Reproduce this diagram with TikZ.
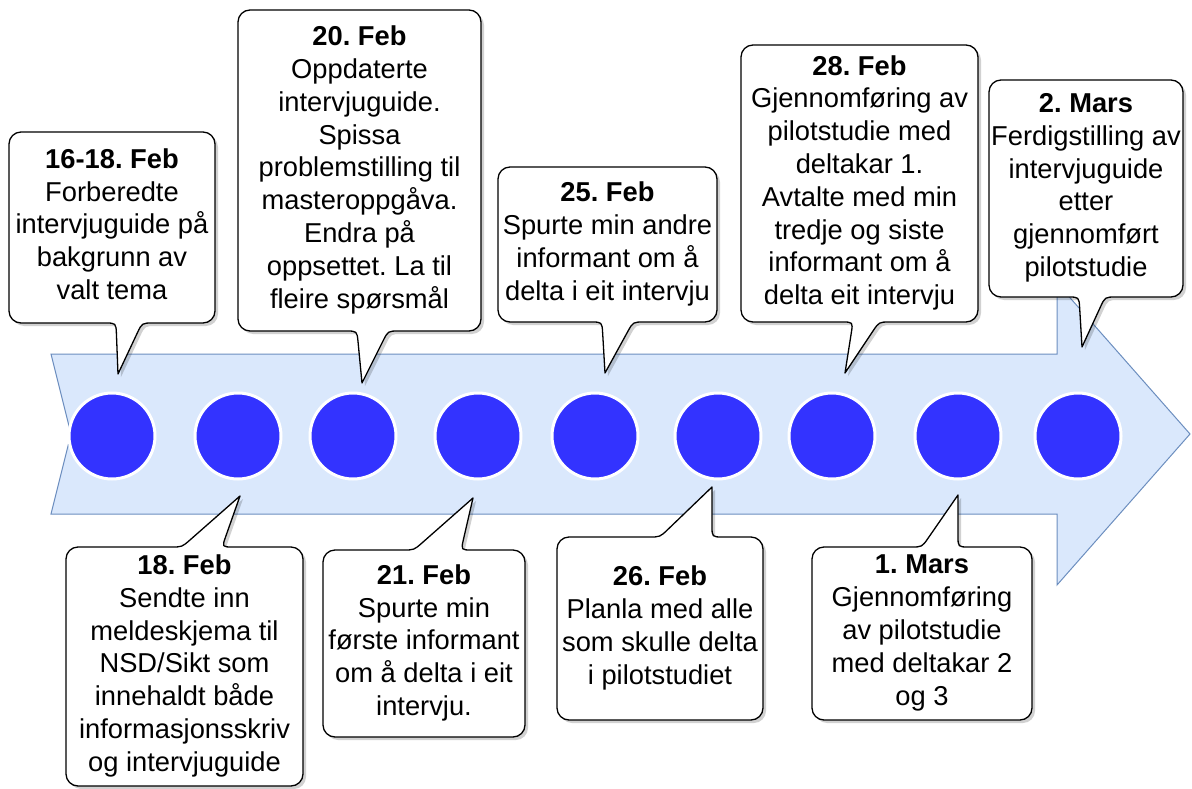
\documentclass[tikz,border=0pt]{standalone}
\usepackage{fontspec}
\setmainfont{Liberation Sans}
\usetikzlibrary{calc}
\frenchspacing
\definecolor{bandfill}{HTML}{DAE8FC}
\definecolor{bandline}{HTML}{6C8EBF}
\definecolor{dotfill}{RGB}{51,51,255}
\def\myrad{12}
\def\myctl{5.4}
\def\myfil{11}
\newcommand\lstrut{\rule[-6.9pt]{0pt}{32.7pt}}
\tikzset{
  callbox/.style={draw=black, line width=1.3pt, fill=white, line join=round},
  callshade/.style={fill=black, opacity=0.18},
  tdot/.style={circle, minimum size=86pt, inner sep=0pt, fill=dotfill, draw=white, line width=3pt},
  calltext/.style={align=center, inner sep=0pt, font=\fontsize{27.3}{32.8}\selectfont,
    execute at begin node=\lstrut, execute at end node=\lstrut},
  toppath/.style n args={8}{insert path={
    ({#1+\myrad},{#2}) -- ({#3-\myrad},{#2})
    .. controls ({#3-\myctl},{#2}) and ({#3},{#2+\myctl}) .. ({#3},{#2+\myrad})
    -- ({#3},{#4-\myrad})
    .. controls ({#3},{#4-\myctl}) and ({#3-\myctl},{#4}) .. ({#3-\myrad},{#4})
    -- ({#6+\myfil},{#4})
    .. controls ({#6},{#4}) .. ($({#6},{#4})!\myfil pt!({#7},{#8})$)
    -- ({#7},{#8})
    -- ($({#5},{#4})!\myfil pt!({#7},{#8})$)
    .. controls ({#5},{#4}) .. ({#5-\myfil},{#4})
    -- ({#1+\myrad},{#4})
    .. controls ({#1+\myctl},{#4}) and ({#1},{#4-\myctl}) .. ({#1},{#4-\myrad})
    -- ({#1},{#2+\myrad})
    .. controls ({#1},{#2+\myctl}) and ({#1+\myctl},{#2}) .. ({#1+\myrad},{#2})
    -- cycle}},
  botpath/.style n args={8}{insert path={
    ({#1+\myrad},{#2}) -- ({#5-\myfil},{#2})
    .. controls ({#5},{#2}) .. ($({#5},{#2})!\myfil pt!({#7},{#8})$)
    -- ({#7},{#8})
    -- ($({#6},{#2})!\myfil pt!({#7},{#8})$)
    .. controls ({#6},{#2}) .. ({#6+\myfil},{#2})
    -- ({#3-\myrad},{#2})
    .. controls ({#3-\myctl},{#2}) and ({#3},{#2+\myctl}) .. ({#3},{#2+\myrad})
    -- ({#3},{#4-\myrad})
    .. controls ({#3},{#4-\myctl}) and ({#3-\myctl},{#4}) .. ({#3-\myrad},{#4})
    -- ({#1+\myrad},{#4})
    .. controls ({#1+\myctl},{#4}) and ({#1},{#4-\myctl}) .. ({#1},{#4-\myrad})
    -- ({#1},{#2+\myrad})
    .. controls ({#1},{#2+\myctl}) and ({#1+\myctl},{#2}) .. ({#1+\myrad},{#2})
    -- cycle}},
}
\newcommand\topcall[8]{%
  \path[callshade, shift={(3,3)}, toppath={#1}{#2}{#3}{#4}{#5}{#6}{#7}{#8}];
  \path[callbox, toppath={#1}{#2}{#3}{#4}{#5}{#6}{#7}{#8}];}
\newcommand\botcall[8]{%
  \path[callshade, shift={(3,3)}, botpath={#1}{#2}{#3}{#4}{#5}{#6}{#7}{#8}];
  \path[callbox, botpath={#1}{#2}{#3}{#4}{#5}{#6}{#7}{#8}];}
\begin{document}
\begin{tikzpicture}[x=1pt, y=-1pt]
\useasboundingbox (0,0) rectangle (1192,789);
% timeline arrow
\draw[fill=bandfill, draw=bandline, line width=1pt, line join=miter]
  (51,354) -- (1057,354) -- (1057,283) -- (1190,434) -- (1057,585)
  -- (1057,514) -- (51,514) -- (71,434) -- cycle;
% dots
\foreach \n/\x in {1/112, 2/238, 3/353, 4/478, 5/595, 6/718, 7/832, 8/958, 9/1078}
  \node[tdot] (d\n) at (\x,436) {};
% callouts above
\topcall{9}{132}{215}{323}{116}{142}{118}{374}
\topcall{238}{10}{481}{331}{357}{388}{362}{383}
\topcall{498}{167}{717}{322}{602}{633}{605}{373}
\topcall{741}{45}{978}{322}{853}{879}{845}{373}
\topcall{989}{80}{1183}{297}{1079}{1105}{1082}{347}
% callouts below
\botcall{66}{547}{303}{786}{182}{222}{240}{496}
\botcall{323}{550}{525}{737}{414}{461}{473}{498}
\botcall{557}{537}{763}{720}{660}{712}{712}{487}
\botcall{812}{547}{1032}{720}{922}{958}{958}{495}
% texts
\node[calltext] (t1) at (112,227.5) {\textbf{16-18. Feb}\\Forberedte\\intervjuguide på\\bakgrunn av\\valt tema};
\node[calltext] (t2) at (359.5,170.5) {\textbf{20. Feb}\\Oppdaterte\\intervjuguide.\\Spissa\\problemstilling til\\masteroppgåva.\\Endra på\\oppsettet. La til\\fleire spørsmål};
\node[calltext] (t3) at (607.5,244.5) {\textbf{25. Feb}\\Spurte min andre\\informant om å\\delta i eit intervju};
\node[calltext] (t4) at (859.5,183.5) {\textbf{28. Feb}\\Gjennomføring av\\pilotstudie med\\deltakar 1.\\Avtalte med min\\tredje og siste\\informant om å\\delta eit intervju};
\node[calltext] (t5) at (1086,188.5) {\textbf{2. Mars}\\Ferdigstilling av\\intervjuguide\\etter\\gjennomført\\pilotstudie};
\node[calltext] (t6) at (184.5,666.5) {\textbf{18. Feb}\\Sendte inn\\meldeskjema til\\NSD/Sikt som\\innehaldt både\\informasjonsskriv\\og intervjuguide};
\node[calltext] (t7) at (424,643.5) {\textbf{21. Feb}\\Spurte min\\første informant\\om å delta i eit\\intervju.};
\node[calltext] (t8) at (660,628.5) {\textbf{26. Feb}\\Planla med alle\\som skulle delta\\i pilotstudiet};
\node[calltext] (t9) at (922,633.5) {\textbf{1. Mars}\\Gjennomføring\\av pilotstudie\\med deltakar 2\\og 3};
\end{tikzpicture}
\end{document}
